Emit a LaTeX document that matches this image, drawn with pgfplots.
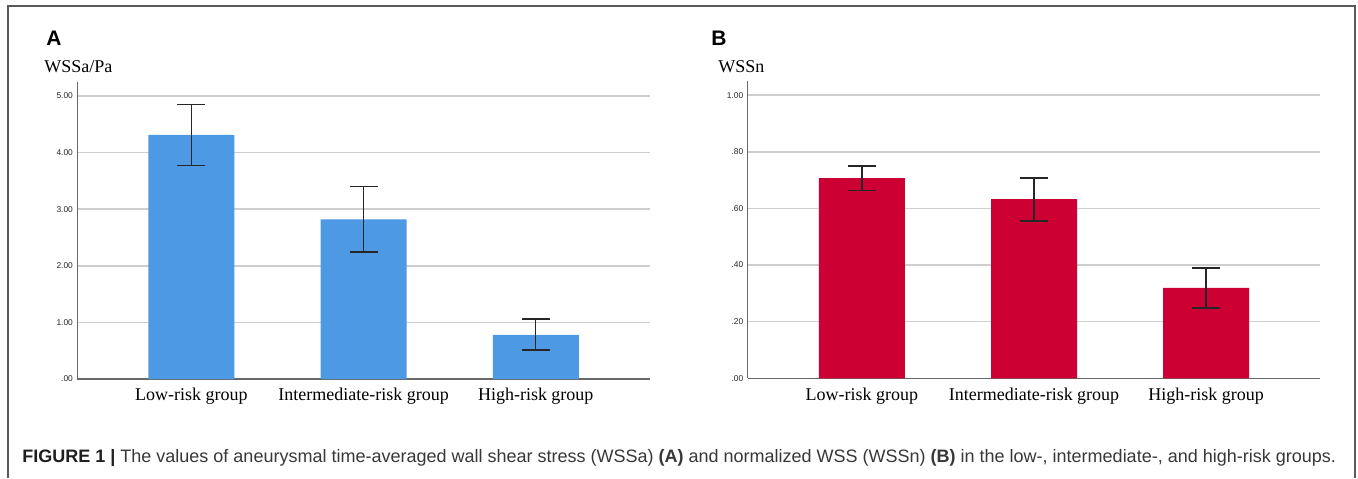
\documentclass[border=0pt]{standalone}
\usepackage{fontspec}
\setmainfont{Liberation Serif}
\setsansfont{Liberation Sans}
\usepackage{pgfplots}
\pgfplotsset{compat=1.18}
\usepackage{pgfplotstable}
\definecolor{barblue}{RGB}{78,153,227}
\definecolor{barred}{RGB}{204,0,51}
\definecolor{gridc}{RGB}{206,206,206}
\definecolor{axisc}{RGB}{105,105,105}
\definecolor{framec}{RGB}{90,90,90}

\pgfplotstableread{
x y ep em
0 4.31 0.54 0.54
1 2.82 0.58 0.58
2 0.78 0.28 0.27
}\wssa
\pgfplotstableread{
x y ep em
0 0.707 0.043 0.043
1 0.633 0.075 0.078
2 0.319 0.071 0.071
}\wssn

\pgfplotsset{panel/.style={
  scale only axis, width=286.3pt, height=148.65pt,
  xmin=-0.663, xmax=2.663, ymin=0,
  axis x line*=bottom, axis y line*=left,
  axis line style={-, axisc, line width=0.6pt},
  ymajorgrids, grid style={gridc, line width=0.8pt},
  major tick length=0pt,
  xtick={0,1,2},
  xticklabels={Low-risk group,Intermediate-risk group,High-risk group},
  xticklabel style={font=\rmfamily\fontsize{9}{10}\selectfont, inner sep=0pt, yshift=-4.5pt, text=black},
  yticklabel style={font=\sffamily\fontsize{4.2}{5}\selectfont, inner sep=0pt, xshift=-2pt, text=black!85},
  ybar, bar width=43pt,
  clip=false,
}}

\begin{document}
\begin{tikzpicture}
\path[use as bounding box, fill=white] (0,0) rectangle (679pt,239pt);
\draw[framec, line width=1pt] (4pt,0) -- (4pt,236pt) -- (677.5pt,236pt) -- (677.5pt,0);

\begin{axis}[panel, at={(38.65pt,49.5pt)}, anchor=south west,
  ymax=5.25, ytick={0,1,2,3,4,5},
  yticklabels={.00,1.00,2.00,3.00,4.00,5.00}]
\addplot[fill=barblue, draw=none,
  error bars/.cd, y dir=both, y explicit,
  error bar style={black!85, line width=0.7pt},
  error mark options={rotate=90, black!85, line width=0.7pt, mark size=7pt}]
  table[x=x, y=y, y error plus=ep, y error minus=em] {\wssa};
\end{axis}

\begin{axis}[panel, at={(373.85pt,49.85pt)}, anchor=south west,
  ymax=1.05, ytick={0,0.2,0.4,0.6,0.8,1.0},
  yticklabels={.00,.20,.40,.60,.80,1.00}]
\addplot[fill=barred, draw=none,
  error bars/.cd, y dir=both, y explicit,
  error bar style={black!85, line width=0.7pt},
  error mark options={rotate=90, black!85, line width=0.7pt, mark size=7pt}]
  table[x=x, y=y, y error plus=ep, y error minus=em] {\wssn};
\end{axis}

\node[anchor=base west, inner sep=0pt, font=\sffamily\bfseries\fontsize{10.5}{12}\selectfont] at (23pt,216.5pt) {A};
\node[anchor=base west, inner sep=0pt, font=\sffamily\bfseries\fontsize{10.5}{12}\selectfont] at (355.5pt,216.5pt) {B};
\node[anchor=base west, inner sep=0pt, font=\rmfamily\fontsize{9}{10}\selectfont] at (22pt,203pt) {WSSa/Pa};
\node[anchor=base west, inner sep=0pt, font=\rmfamily\fontsize{9}{10}\selectfont] at (359pt,203pt) {WSSn};

\node[anchor=base west, inner sep=0pt, font=\sffamily\fontsize{9}{10}\selectfont, text=black!78] at (11pt,8pt)
  {{\bfseries\color{black!88}FIGURE 1 |} The values of aneurysmal time-averaged wall shear stress (WSSa) {\bfseries (A)} and normalized WSS (WSSn) {\bfseries (B)} in the low-, intermediate-, and high-risk groups.};
\end{tikzpicture}
\end{document}
